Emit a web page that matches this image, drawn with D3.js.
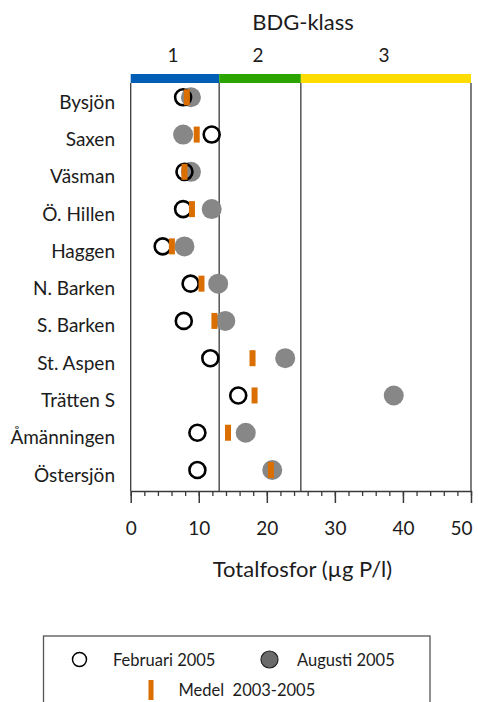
<!DOCTYPE html>
<html>
<head>
<meta charset="utf-8">
<script src="https://cdn.jsdelivr.net/npm/d3@7/dist/d3.min.js"></script>
<style>
  body { margin: 0; background: #fff; }
  svg { display: block; font-family: Lato, "Open Sans", sans-serif; }
</style>
</head>
<body>
<svg id="chart" width="478" height="702"></svg>
<script>
// Lakes, top to bottom
const lakes = ["Bysjön", "Saxen", "Väsman", "Ö. Hillen", "Haggen", "N. Barken",
  "S. Barken", "St. Aspen", "Trätten S", "Åmänningen", "Östersjön"];
// Total phosphorus (µg P/l)
const februari2005 = [7.7, 11.9, 7.9, 7.7, 4.7, 8.8, 7.8, 11.7, 15.8, 9.8, 9.8];
const augusti2005  = [8.85, 7.7, 8.85, 11.9, 7.9, 12.85, 13.9, 22.7, 38.65, 16.9, 20.8];
const medel0305    = [8.25, 9.7, 7.9, 9.0, 6.05, 10.4, 12.3, 17.9, 18.2, 14.3, 20.6];
// BDG classes (class limits in µg P/l)
const classNames = ["1", "2", "3"];
const classLimits = [0, 13, 25, 50];
const classColors = ["#005EB4", "#2CA400", "#FFDC00"];
const xTicks = [0, 10, 20, 30, 40, 50];

const svg = d3.select("#chart");
const plotLeft = 130.7, plotRight = 471, plotTop = 83, plotBottom = 491;

const x = d3.scaleLinear().domain([0, 50]).range([plotLeft, plotRight]);
const y = d3.scalePoint().domain(lakes).range([97.3, 470]);

const ink = "#1c1c1c";
const frame = "#3a3a3a";

// Class bands along the top
svg.append("g").selectAll("rect").data(classNames).join("rect")
  .attr("x", (d, i) => x(classLimits[i]))
  .attr("width", (d, i) => x(classLimits[i + 1]) - x(classLimits[i]))
  .attr("y", 74).attr("height", 9)
  .attr("fill", (d, i) => classColors[i]);

svg.append("g").selectAll("text").data(classNames).join("text")
  .attr("x", (d, i) => x((classLimits[i] + classLimits[i + 1]) / 2) - 2)
  .attr("y", 62)
  .attr("text-anchor", "middle")
  .attr("font-size", 19).attr("fill", ink)
  .text(d => d);

svg.append("text")
  .attr("x", 303).attr("y", 29.5)
  .attr("text-anchor", "middle")
  .attr("font-size", 22).attr("fill", ink)
  .text("BDG-klass");

// Frame and class boundaries
const g = svg.append("g").attr("stroke", frame).attr("stroke-width", 1.3);
g.append("line").attr("x1", plotLeft).attr("x2", plotLeft).attr("y1", plotTop).attr("y2", plotBottom);
g.append("line").attr("x1", plotRight).attr("x2", plotRight).attr("y1", plotTop).attr("y2", plotBottom);
g.selectAll("line.lim").data(classLimits.slice(1, -1)).join("line").attr("class", "lim")
  .attr("x1", d => x(d)).attr("x2", d => x(d)).attr("y1", plotTop).attr("y2", plotBottom);

// x axis: minor ticks, then major ticks with labels
svg.append("g").attr("transform", `translate(0,${plotBottom})`)
  .call(d3.axisBottom(x).tickValues(d3.range(0, 51, 2)).tickSize(5).tickFormat(""))
  .call(a => a.select(".domain").remove())
  .call(a => a.selectAll("line").attr("stroke", frame).attr("stroke-width", 1.3));

svg.append("g").attr("transform", `translate(0,${plotBottom})`)
  .call(d3.axisBottom(x).tickValues(xTicks).tickSize(12).tickPadding(18.5).tickSizeOuter(0))
  .call(a => a.select(".domain").attr("stroke", frame).attr("stroke-width", 1.5))
  .call(a => a.selectAll("line").attr("stroke", frame).attr("stroke-width", 1.5))
  .call(a => a.selectAll("text").attr("font-size", 19).attr("fill", ink)
    .attr("font-family", "Lato, sans-serif"))
  // keep the last label inside the page edge
  .call(a => a.selectAll(".tick").filter(d => d === 50).select("text")
    .attr("text-anchor", "end").attr("x", 1));

svg.append("text")
  .attr("x", 302.5).attr("y", 577)
  .attr("text-anchor", "middle")
  .attr("font-size", 22).attr("fill", ink)
  .text("Totalfosfor (µg P/l)");

// Lake labels
svg.append("g").selectAll("text").data(lakes).join("text")
  .attr("x", 115).attr("y", d => y(d) + 11.5)
  .attr("text-anchor", "end")
  .attr("font-size", 19).attr("fill", ink)
  .text(d => d);

// August 2005: filled grey
svg.append("g").selectAll("circle").data(lakes).join("circle")
  .attr("cx", (d, i) => x(augusti2005[i])).attr("cy", d => y(d))
  .attr("r", 10).attr("fill", "#878787");

// February 2005: open circles
svg.append("g").selectAll("circle").data(lakes).join("circle")
  .attr("cx", (d, i) => x(februari2005[i])).attr("cy", d => y(d))
  .attr("r", 8).attr("fill", "none").attr("stroke", "#000").attr("stroke-width", 2.6);

// Mean 2003-2005: orange bars
svg.append("g").selectAll("rect").data(lakes).join("rect")
  .attr("x", (d, i) => x(medel0305[i]) - 3).attr("y", d => y(d) - 8)
  .attr("width", 6).attr("height", 16).attr("fill", "#DB6E00");

// Legend
const lg = svg.append("g");
lg.append("rect").attr("x", 43.5).attr("y", 636).attr("width", 386.5).attr("height", 80)
  .attr("fill", "none").attr("stroke", "#555").attr("stroke-width", 1.3);
lg.append("circle").attr("cx", 79.5).attr("cy", 659.5).attr("r", 7)
  .attr("fill", "#fff").attr("stroke", "#000").attr("stroke-width", 1.5);
lg.append("text").attr("x", 113).attr("y", 666)
  .attr("font-size", 16.5).attr("fill", ink).text("Februari 2005");
lg.append("circle").attr("cx", 269.5).attr("cy", 659.5).attr("r", 8.5)
  .attr("fill", "#6b6b6b").attr("stroke", "#222").attr("stroke-width", 1.2);
lg.append("text").attr("x", 297).attr("y", 666)
  .attr("font-size", 16.5).attr("fill", ink).text("Augusti 2005");
lg.append("rect").attr("x", 148.5).attr("y", 680).attr("width", 5).attr("height", 20)
  .attr("fill", "#DB6E00");
lg.append("text").attr("x", 178.5).attr("y", 696)
  .attr("font-size", 16.5).attr("fill", ink).attr("xml:space", "preserve")
  .text("Medel  2003-2005");
</script>
</body>
</html>
